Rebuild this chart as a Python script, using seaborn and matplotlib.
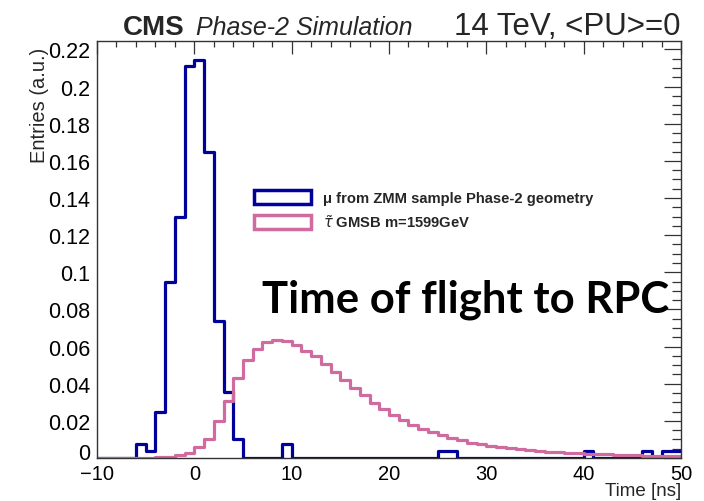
import numpy as np
import pandas as pd
import matplotlib
matplotlib.use("Agg")
import matplotlib.pyplot as plt
import matplotlib.transforms as mtransforms
from matplotlib.patches import Patch
from matplotlib.ticker import MultipleLocator
import seaborn as sns

# ---- data (1 ns bins from -10 to 50) ----
bin_edges = list(range(-10, 51))
muon_zmm = [0, 0, 0, 0, 0.0075, 0.0038, 0.025, 0.0946, 0.130, 0.211,
            0.2145, 0.165, 0.074, 0.0355, 0.010, 0, 0, 0, 0, 0.0075,
            0, 0, 0, 0, 0, 0, 0, 0, 0, 0,
            0, 0, 0, 0, 0, 0.0038, 0.0038, 0, 0, 0,
            0, 0, 0, 0, 0, 0, 0, 0, 0, 0,
            0.0038, 0, 0, 0, 0, 0, 0.0038, 0, 0.0038, 0.0038]
stau_gmsb = [0, 0, 0, 0, 0, 0, 0.0003, 0.0006, 0.0016, 0.0027,
             0.006, 0.010, 0.020, 0.0306, 0.043, 0.053, 0.0588, 0.0622, 0.0636, 0.0630,
             0.0606, 0.0578, 0.0548, 0.0507, 0.0462, 0.0418, 0.0375, 0.0337, 0.0298, 0.0265,
             0.0232, 0.0204, 0.0178, 0.0156, 0.0138, 0.0122, 0.0108, 0.0095, 0.0083, 0.0073,
             0.0065, 0.0058, 0.0052, 0.0046, 0.0041, 0.0037, 0.0033, 0.0030, 0.0027, 0.0025,
             0.0023, 0.0021, 0.0019, 0.0017, 0.0016, 0.0014, 0.0013, 0.0012, 0.0011, 0.0010]
labels = ["\u03bc from ZMM sample Phase-2 geometry", r"$\tilde{\tau}$ GMSB m=1599GeV"]
colors = ["#00009A", "#D06BA0"]

centers = [(a + b) / 2 for a, b in zip(bin_edges[:-1], bin_edges[1:])]
df = pd.DataFrame({
    "time": centers * 2,
    "entries": muon_zmm + stau_gmsb,
    "sample": [labels[0]] * len(centers) + [labels[1]] * len(centers),
})

sns.set_style("white")
plt.rcParams["font.family"] = ["Liberation Sans", "DejaVu Sans"]
plt.rcParams["mathtext.fontset"] = "dejavusans"

W, H = 704, 502
L, R, T, B = 97, 681, 42, 459
fig = plt.figure(figsize=(W / 100, H / 100), dpi=100)
ax = fig.add_axes([L / W, 1 - B / H, (R - L) / W, (B - T) / H])

def ax_x(px):
    return (px - L) / (R - L)

def ax_y(py):
    return (B - py) / (B - T)

for lab, col in zip(labels, colors):
    sub = df[df["sample"] == lab]
    sns.histplot(data=sub, x="time", weights="entries", bins=bin_edges,
                 element="step", fill=False, color=col, linewidth=2.3, ax=ax)

ax.set_xlim(-10, 50)
ax.set_ylim(0, 0.2245)
ax.xaxis.set_major_locator(MultipleLocator(10))
ax.xaxis.set_minor_locator(MultipleLocator(2))
ax.yaxis.set_major_locator(MultipleLocator(0.02))
ax.yaxis.set_minor_locator(MultipleLocator(0.005))
ax.yaxis.set_major_formatter(matplotlib.ticker.FuncFormatter(lambda v, p: ("%g" % round(v, 3))))
ax.tick_params(axis="both", which="both", direction="in", top=True, right=True,
               color="#333333", width=0.9, labelcolor="black")
ax.tick_params(axis="y", which="major", length=12, pad=5, labelsize=15.5)
ax.tick_params(axis="y", which="minor", length=6.5)
ax.tick_params(axis="x", which="major", length=9, pad=4, labelsize=14.5)
ax.tick_params(axis="x", which="minor", length=4.5)
for s in ax.spines.values():
    s.set_color("#333333")
    s.set_linewidth(1.0)

# nudge the y "0" label up slightly so it clears the x "-10" label (as in the reference)
fig.canvas.draw()
for lbl in ax.get_yticklabels():
    if lbl.get_text() == "0":
        lbl.set_transform(lbl.get_transform() + mtransforms.ScaledTranslation(0, 7 / 100, fig.dpi_scale_trans))

ax.set_xlabel("Time [ns]", fontsize=13.5, ha="right", va="top")
ax.xaxis.set_label_coords(1.0, ax_y(483))
ax.set_ylabel("Entries (a.u.)", fontsize=14.5, ha="right", va="bottom")
ax.yaxis.set_label_coords(ax_x(49), ax_y(48))

# header
fig.text(123 / W, 1 - 35 / H, "CMS", fontsize=20, fontweight="bold", va="baseline", ha="left")
fig.text(196 / W, 1 - 35 / H, "Phase-2 Simulation", fontsize=18, style="italic", va="baseline", ha="left")
fig.text(681 / W, 1 - 35 / H, "14 TeV, <PU>=0", fontsize=22.5, va="baseline", ha="right")

handles = [Patch(facecolor="white", edgecolor=c, linewidth=2.5) for c in colors]
leg = ax.legend(handles, labels, loc="upper left", frameon=False,
                prop={"weight": "bold", "size": 10.6}, handlelength=3.9, handleheight=1.05,
                labelspacing=0.55, handletextpad=0.8, borderaxespad=0, borderpad=0)
leg.set_bbox_to_anchor((ax_x(254), ax_y(191)), transform=ax.transAxes)

ax.text(ax_x(262), ax_y(313), "Time of flight to RPC",
        transform=ax.transAxes, fontsize=31.4, fontweight="bold", family=["Lato", "DejaVu Sans"],
        va="baseline", ha="left", color="black")

fig.savefig("out.png", dpi=100)
